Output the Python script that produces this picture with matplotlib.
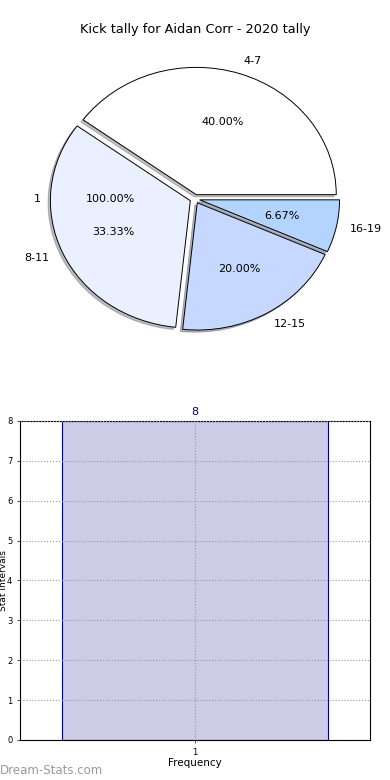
import matplotlib
matplotlib.use('Agg')
import matplotlib.pyplot as plt

# pie data
pie_labels = ['4-7', '8-11', '12-15', '16-19']
pie_values = [6, 5, 3, 1]
pie_colors = ['#FFFFFF', '#EAF0FF', '#C6D8FF', '#B3D4FF']

# single hidden pie that only leaves its labels
extra_labels = ['1']
extra_values = [1]

# bar data
bar_labels = ['1']
bar_values = [8]

fig = plt.figure(figsize=(3.9, 7.8), dpi=100)
fig.text(0.5, 0.962, 'Kick tally for Aidan Corr - 2020 tally', ha='center', va='center', fontsize=9.3)

ax1 = fig.add_axes([0.051, 0.541, 0.897, 0.408])
ax1.pie(extra_values, labels=extra_labels, autopct='%.2f%%',
        wedgeprops={'fill': False, 'linewidth': 0},
        textprops={'fontsize': 8})
ax1.pie(pie_values, labels=pie_labels, colors=pie_colors, autopct='%.2f%%',
        explode=[0.035] * len(pie_values),
        shadow={'ox': -0.012, 'oy': -0.012, 'shade': 0.5},
        wedgeprops={'edgecolor': 'black', 'linewidth': 0.7},
        textprops={'fontsize': 8})
ax1.set_aspect('auto')
ax1.set_xlim(-1.25, 1.25)
ax1.set_ylim(-1.25, 1.25)

ax2 = fig.add_axes([0.051, 0.0513, 0.897, 0.409])
x = [1]
ax2.bar(x, bar_values, width=0.76, color='#CCCCE6', edgecolor='#00008B', linewidth=0.8, zorder=1)
for xi, v in zip(x, bar_values):
    ax2.text(xi, v + 0.1, str(v), ha='center', va='bottom', fontsize=8, color='#00007F')
ax2.set_xlim(0.5, 1.5)
ax2.set_ylim(0, 8)
ax2.set_xticks(x)
ax2.set_xticklabels(bar_labels)
ax2.set_yticks(range(0, 9))
ax2.tick_params(labelsize=6, length=2, width=0.5, colors='black')
ax2.grid(True, linestyle=':', color='#999999', linewidth=0.8, zorder=2)
ax2.set_axisbelow(False)
ax2.set_xlabel('Frequency', fontsize=7.5, labelpad=1)
ax2.set_ylabel('Stat Intervals', fontsize=6.5)
ax2.yaxis.set_label_coords(-0.034, 0.5)

fig.text(0.0, 0.012, 'Dream-Stats.com', ha='left', va='center', fontsize=8.5, color='#999999')

fig.savefig('out.png', dpi=100)
